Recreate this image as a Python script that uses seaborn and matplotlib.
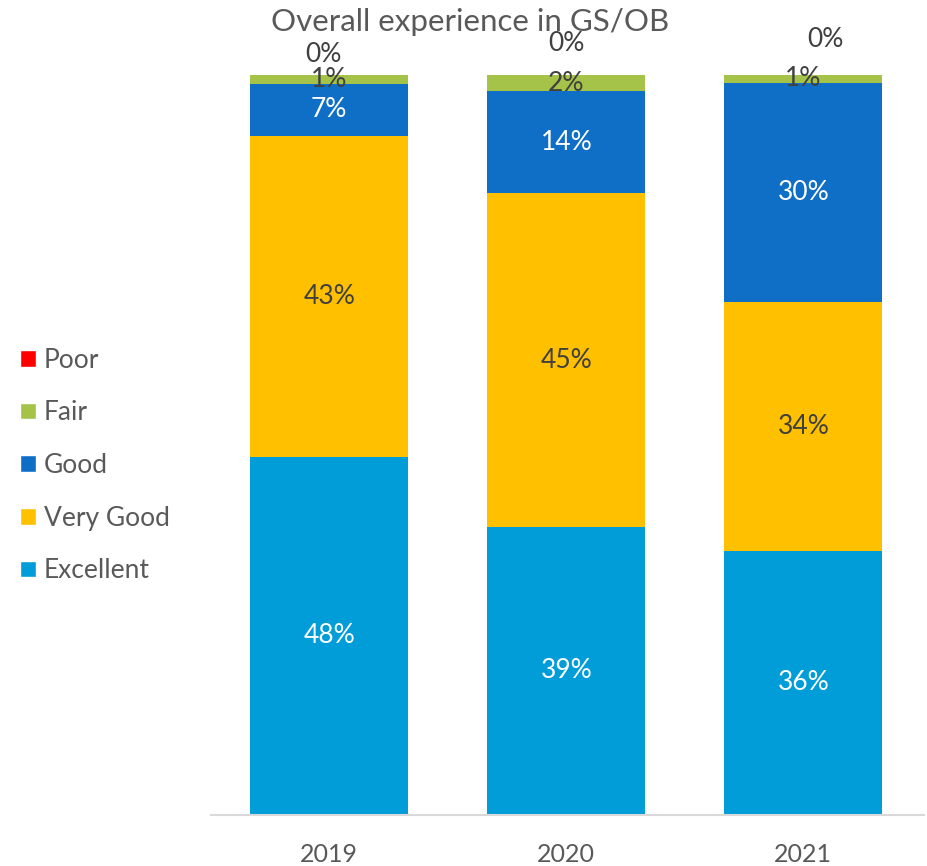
import matplotlib
matplotlib.use("Agg")
import matplotlib.pyplot as plt
import seaborn as sns
import numpy as np
from matplotlib.patches import Patch

years = ["2019", "2020", "2021"]
excellent = [48.4, 38.9, 35.7]
very_good = [43.4, 45.1, 33.6]
good = [7.0, 13.8, 29.6]
fair = [1.2, 2.2, 1.1]
poor = [0.0, 0.0, 0.0]

series = [
    ("Excellent", excellent, "#009DD9", "white"),
    ("Very Good", very_good, "#FFC000", "#404040"),
    ("Good", good, "#0F6FC6", "white"),
    ("Fair", fair, "#A5C249", "#404040"),
    ("Poor", poor, "#FF0000", "#404040"),
]

sns.set_style("white")
plt.rcParams['font.family'] = ['Lato', 'DejaVu Sans']

fig = plt.figure(figsize=(9.28, 8.66), dpi=100)
ax = fig.add_axes([0.227, 0.059, 0.769, 0.8545])

bottom = np.zeros(len(years))
for name, vals, col, tcol in series:
    vals = np.array(vals)
    sns.barplot(x=years, y=vals, bottom=bottom, color=col, width=0.667,
                ax=ax, saturation=1, linewidth=0)
    for i, v in enumerate(vals):
        if name == "Poor":
            # excel puts the zero labels above the bar
            dx = [-6, 0, 22][i] * 0.72
            dy = [20, 31, 35][i] * 0.72
            ax.annotate(f"{v:.0f}%", (i, bottom[i] + v), xytext=(dx, dy),
                        textcoords="offset points", ha="center", va="center",
                        fontsize=19, color=tcol)
        else:
            ax.text(i, bottom[i] + v / 2, f"{v:.0f}%", ha="center", va="center",
                    fontsize=19, color=tcol)
    bottom = bottom + vals

ax.set_xlim(-0.5, 2.51)
ax.set_ylim(0, 100)
ax.set_yticks([])
ax.set_xlabel("")
ax.set_ylabel("")
for s in ["top", "right", "left"]:
    ax.spines[s].set_visible(False)
ax.spines["bottom"].set_color("#D9D9D9")
ax.spines["bottom"].set_linewidth(1.5)
ax.tick_params(axis="x", length=0, pad=20, labelsize=18, labelcolor="#595959")

fig.text(0.507, 0.975, "Overall experience in GS/OB", ha="center", va="center",
         fontsize=22.5, color="#595959")

handles = [Patch(facecolor=c, label=n) for n, _, c, _ in series[::-1]]
fig.legend(handles=handles, loc="center left", bbox_to_anchor=(-0.004, 0.4625),
           frameon=False, fontsize=19, labelcolor="#595959", handlelength=0.6,
           handleheight=0.6, handletextpad=0.3, labelspacing=1.05)

fig.savefig("out.png", dpi=100)
